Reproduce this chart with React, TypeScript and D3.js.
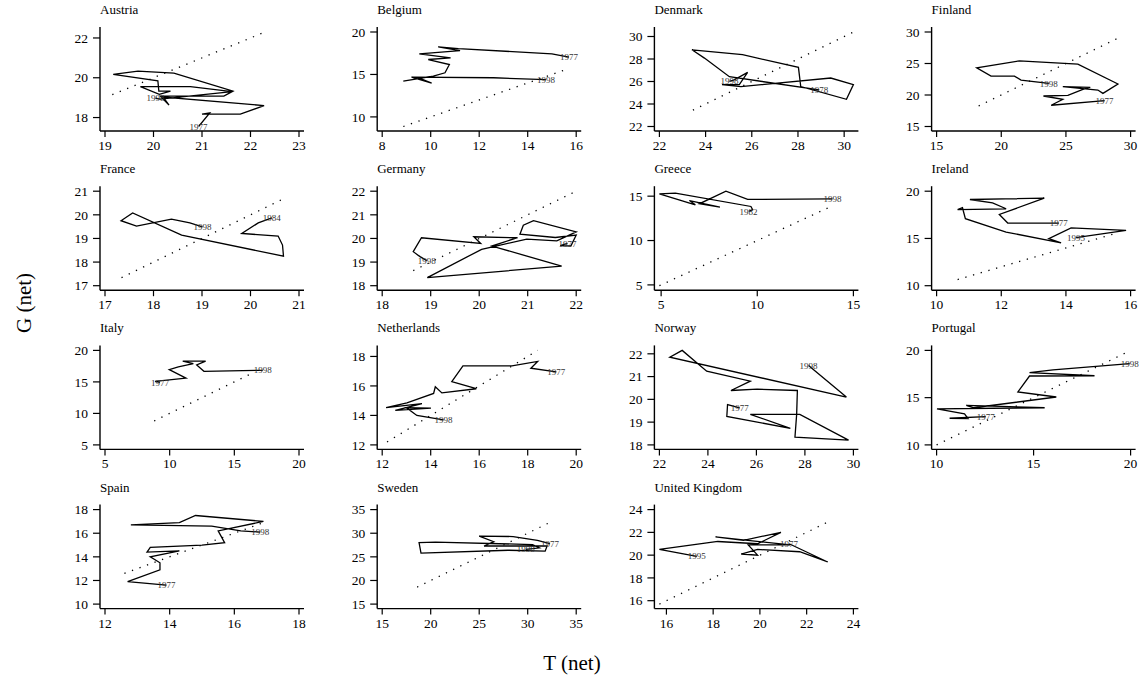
import React from "react";
import * as d3 from "d3";

// ---------- DATA ----------
const countries = ["Austria", "Belgium", "Denmark", "Finland", "France", "Germany", "Greece", "Ireland", "Italy", "Netherlands", "Norway", "Portugal", "Spain", "Sweden", "United Kingdom"];

const austriaT = [20.93, 21.16, 21.0, 21.79, 22.28, 20.2, 20.32, 20.14, 21.45, 21.64, 20.42, 19.68, 19.17, 20.09, 20.11, 20.35, 20.12, 19.73, 20.76, 21.62, 20.14, 20.04];
const austriaG = [17.55, 18.23, 18.17, 18.17, 18.6, 19.03, 18.63, 19.08, 19.08, 19.33, 20.23, 20.33, 20.17, 19.85, 19.33, 19.33, 19.17, 19.55, 19.55, 19.3, 18.93, 18.97];
const austriaMarks: [number, string][] = [[0, "1977"], [21, "1998"]];
const austriaXTicks = [19, 20, 21, 22, 23];
const austriaYTicks = [18, 20, 22];
const austriaDiag = [19.15, 22.3];

const belgiumT = [15.7, 15.0, 11.14, 10.31, 11.21, 9.53, 10.82, 9.9, 10.77, 10.59, 10.11, 8.87, 9.56, 10.04, 9.21, 12.59, 14.75];
const belgiumG = [17.03, 17.42, 18.05, 18.24, 17.81, 17.42, 16.95, 16.76, 16.17, 15.2, 14.8, 14.22, 14.53, 13.98, 14.69, 14.61, 14.38];
const belgiumMarks: [number, string][] = [[0, "1977"], [16, "1998"]];
const belgiumXTicks = [8, 10, 12, 14, 16];
const belgiumYTicks = [10, 15, 20];
const belgiumDiag = [8.87, 15.6];

const denmarkT = [28.92, 25.03, 23.95, 23.41, 25.6, 28.02, 28.12, 30.1, 30.4, 29.42, 25.53, 24.71, 25.46, 25.82, 25.24, 25.03];
const denmarkG = [25.25, 26.43, 28.08, 28.82, 28.38, 27.26, 25.55, 24.42, 25.72, 26.31, 25.55, 25.72, 25.72, 26.81, 26.14, 26.02];
const denmarkMarks: [number, string][] = [[0, "1978"], [15, "1998"]];
const denmarkXTicks = [22, 24, 26, 28, 30];
const denmarkYTicks = [22, 24, 26, 28, 30];
const denmarkDiag = [23.45, 30.4];

const finlandT = [27.99, 23.86, 24.76, 23.26, 25.15, 26.31, 26.88, 24.76, 27.47, 27.86, 29.02, 25.92, 21.4, 18.1, 19.21, 21.02, 21.53, 23.68];
const finlandG = [19.11, 18.37, 19.32, 19.84, 19.95, 20.89, 21.21, 21.32, 20.79, 20.26, 21.74, 24.89, 25.42, 24.32, 23.0, 23.0, 22.37, 21.84];
const finlandMarks: [number, string][] = [[0, "1977"], [17, "1998"]];
const finlandXTicks = [15, 20, 25, 30];
const finlandYTicks = [15, 20, 25, 30];
const finlandDiag = [18.25, 29.0];

const franceT = [20.44, 20.16, 19.82, 20.57, 20.66, 20.68, 18.58, 17.57, 17.33, 17.65, 18.37, 18.75, 19.01];
const franceG = [19.87, 19.66, 19.21, 19.1, 18.72, 18.25, 19.14, 20.08, 19.75, 19.52, 19.82, 19.66, 19.49];
const franceMarks: [number, string][] = [[0, "1984"], [12, "1998"]];
const franceXTicks = [17, 18, 19, 20, 21];
const franceYTicks = [17, 18, 19, 20, 21];
const franceDiag = [17.34, 20.75];

const germanyT = [21.82, 21.67, 21.89, 22.0, 21.57, 20.84, 20.91, 21.12, 22.0, 21.6, 20.98, 20.05, 18.93, 21.7, 20.26, 20.79, 19.89, 20.03, 18.81, 18.64, 18.78, 18.92];
const germanyG = [19.79, 19.7, 19.68, 20.14, 20.04, 20.18, 20.56, 20.75, 20.28, 19.9, 19.97, 19.54, 18.34, 18.83, 19.68, 20.03, 20.07, 19.79, 20.03, 19.44, 19.23, 19.06];
const germanyMarks: [number, string][] = [[0, "1977"], [21, "1998"]];
const germanyXTicks = [18, 19, 20, 21, 22];
const germanyYTicks = [18, 19, 20, 21, 22];
const germanyDiag = [18.64, 22.0];

const greeceT = [9.55, 9.76, 9.67, 5.74, 4.91, 6.78, 6.47, 8.06, 6.99, 8.37, 9.5, 13.91];
const greeceG = [13.28, 13.47, 13.84, 15.34, 15.26, 14.03, 14.51, 13.77, 14.14, 15.56, 14.63, 14.7];
const greeceMarks: [number, string][] = [[0, "1982"], [11, "1998"]];
const greeceXTicks = [5, 10, 15];
const greeceYTicks = [5, 10, 15];
const greeceDiag = [4.91, 13.9];

const irelandT = [13.78, 12.2, 11.94, 13.33, 11.03, 11.73, 12.15, 10.65, 10.8, 10.89, 12.15, 13.85, 13.47, 14.16, 15.86, 14.31];
const irelandG = [16.63, 16.63, 17.54, 19.26, 19.12, 18.77, 18.14, 18.04, 18.25, 17.09, 15.68, 14.53, 14.98, 16.11, 15.86, 15.09];
const irelandMarks: [number, string][] = [[0, "1977"], [15, "1995"]];
const irelandXTicks = [10, 12, 14, 16];
const irelandYTicks = [10, 15, 20];
const irelandDiag = [10.65, 15.6];

const italyT = [9.25, 8.87, 11.26, 9.97, 10.67, 11.83, 11.01, 12.78, 12.09, 12.65, 17.19];
const italyG = [14.92, 15.08, 15.61, 16.95, 17.38, 17.91, 18.29, 18.29, 17.7, 16.68, 16.84];
const italyMarks: [number, string][] = [[0, "1977"], [10, "1998"]];
const italyXTicks = [5, 10, 15, 20];
const italyYTicks = [5, 10, 15, 20];
const italyDiag = [8.8, 16.5];

const netherlandsT = [19.18, 18.13, 18.41, 17.35, 15.33, 14.87, 15.88, 14.46, 14.19, 14.12, 13.02, 12.16, 13.64, 12.54, 14.01, 12.99, 13.43, 14.53];
const netherlandsG = [16.95, 17.2, 17.66, 17.36, 17.36, 16.29, 15.81, 15.53, 15.94, 15.49, 14.85, 14.53, 14.8, 14.34, 14.5, 14.53, 14.0, 13.7];
const netherlandsMarks: [number, string][] = [[0, "1977"], [17, "1998"]];
const netherlandsXTicks = [12, 14, 16, 18, 20];
const netherlandsYTicks = [12, 14, 16, 18];
const netherlandsDiag = [12.2, 18.41];

const norwayT = [25.31, 24.81, 24.78, 27.4, 25.75, 27.79, 29.8, 27.59, 27.66, 27.69, 26.03, 24.95, 25.75, 23.95, 22.94, 22.43, 29.71, 28.15];
const norwayG = [19.63, 19.77, 19.25, 18.73, 19.34, 19.34, 18.21, 18.34, 19.34, 20.39, 20.45, 20.39, 20.8, 21.24, 22.15, 21.85, 20.1, 21.49];
const norwayMarks: [number, string][] = [[0, "1977"], [17, "1998"]];
const norwayXTicks = [22, 24, 26, 28, 30];
const norwayYTicks = [18, 19, 20, 21, 22];
const norwayDiag: number[] = [];

const portugalT = [12.53, 10.67, 11.62, 11.44, 10.02, 15.57, 11.53, 11.91, 16.17, 14.19, 14.79, 18.14, 14.79, 16.0, 19.95];
const portugalG = [13.0, 12.82, 12.79, 13.29, 13.82, 13.93, 14.18, 13.93, 15.07, 15.61, 17.29, 17.32, 17.64, 17.93, 18.6];
const portugalMarks: [number, string][] = [[0, "1977"], [14, "1998"]];
const portugalXTicks = [10, 15, 20];
const portugalYTicks = [10, 15, 20];
const portugalDiag = [10.0, 19.7];

const spainT = [13.9, 12.7, 13.7, 13.7, 13.4, 14.3, 13.3, 13.4, 15.0, 15.7, 15.5, 16.9, 14.8, 14.3, 12.8, 15.3, 16.2, 16.8];
const spainG = [11.6, 11.9, 12.9, 13.5, 14.0, 14.5, 14.4, 14.8, 15.0, 15.2, 16.2, 17.0, 17.5, 16.9, 16.7, 16.6, 16.2, 16.1];
const spainMarks: [number, string][] = [[0, "1977"], [17, "1998"]];
const spainXTicks = [12, 14, 16, 18];
const spainYTicks = [10, 12, 14, 16, 18];
const spainDiag = [12.6, 17.0];

const swedenT = [32.3, 31.0, 28.5, 25.0, 26.5, 25.5, 32.0, 31.8, 28.0, 19.0, 18.8, 20.5, 30.5, 31.2, 29.8];
const swedenG = [27.8, 28.5, 29.3, 29.4, 28.2, 27.3, 27.3, 26.2, 26.4, 25.8, 28.0, 28.1, 27.6, 26.9, 26.6];
const swedenMarks: [number, string][] = [[0, "1977"], [14, "1998"]];
const swedenXTicks = [15, 20, 25, 30, 35];
const swedenYTicks = [15, 20, 25, 30, 35];
const swedenDiag = [18.6, 32.5];

const ukT = [21.25, 22.9, 21.7, 19.9, 19.2, 19.9, 19.5, 21.3, 18.1, 19.3, 20.2, 20.9, 19.9, 18.2, 15.7, 17.3];
const ukG = [21.0, 19.4, 20.3, 20.5, 20.1, 20.0, 20.9, 20.9, 21.6, 21.3, 21.7, 22.0, 21.0, 21.2, 20.5, 19.9];
const ukMarks: [number, string][] = [[0, "1977"], [15, "1995"]];
const ukXTicks = [16, 18, 20, 22, 24];
const ukYTicks = [16, 18, 20, 22, 24];
const ukDiag = [15.7, 23.0];

const xTitle = "T (net)";
const yTitle = "G (net)";

// ---------- assembled table ----------
type PanelData = { name: string; T: number[]; G: number[]; marks: [number, string][]; xTicks: number[]; yTicks: number[]; diag: number[] };
const table: PanelData[] = [
  { name: countries[0], T: austriaT, G: austriaG, marks: austriaMarks, xTicks: austriaXTicks, yTicks: austriaYTicks, diag: austriaDiag },
  { name: countries[1], T: belgiumT, G: belgiumG, marks: belgiumMarks, xTicks: belgiumXTicks, yTicks: belgiumYTicks, diag: belgiumDiag },
  { name: countries[2], T: denmarkT, G: denmarkG, marks: denmarkMarks, xTicks: denmarkXTicks, yTicks: denmarkYTicks, diag: denmarkDiag },
  { name: countries[3], T: finlandT, G: finlandG, marks: finlandMarks, xTicks: finlandXTicks, yTicks: finlandYTicks, diag: finlandDiag },
  { name: countries[4], T: franceT, G: franceG, marks: franceMarks, xTicks: franceXTicks, yTicks: franceYTicks, diag: franceDiag },
  { name: countries[5], T: germanyT, G: germanyG, marks: germanyMarks, xTicks: germanyXTicks, yTicks: germanyYTicks, diag: germanyDiag },
  { name: countries[6], T: greeceT, G: greeceG, marks: greeceMarks, xTicks: greeceXTicks, yTicks: greeceYTicks, diag: greeceDiag },
  { name: countries[7], T: irelandT, G: irelandG, marks: irelandMarks, xTicks: irelandXTicks, yTicks: irelandYTicks, diag: irelandDiag },
  { name: countries[8], T: italyT, G: italyG, marks: italyMarks, xTicks: italyXTicks, yTicks: italyYTicks, diag: italyDiag },
  { name: countries[9], T: netherlandsT, G: netherlandsG, marks: netherlandsMarks, xTicks: netherlandsXTicks, yTicks: netherlandsYTicks, diag: netherlandsDiag },
  { name: countries[10], T: norwayT, G: norwayG, marks: norwayMarks, xTicks: norwayXTicks, yTicks: norwayYTicks, diag: norwayDiag },
  { name: countries[11], T: portugalT, G: portugalG, marks: portugalMarks, xTicks: portugalXTicks, yTicks: portugalYTicks, diag: portugalDiag },
  { name: countries[12], T: spainT, G: spainG, marks: spainMarks, xTicks: spainXTicks, yTicks: spainYTicks, diag: spainDiag },
  { name: countries[13], T: swedenT, G: swedenG, marks: swedenMarks, xTicks: swedenXTicks, yTicks: swedenYTicks, diag: swedenDiag },
  { name: countries[14], T: ukT, G: ukG, marks: ukMarks, xTicks: ukXTicks, yTicks: ukYTicks, diag: ukDiag },
];

// ---------- layout ----------
const W = 1144;
const H = 684;
const COL0 = 100;
const COLSTEP = 277.2;
const ROW0 = 27;
const ROWSTEP = 159.2;
const PW = 204;
const PH = 104;
const serif: React.CSSProperties = { fontFamily: "'Liberation Serif', 'Times New Roman', Times, serif" };

function Panel({ p, idx }: { p: PanelData; idx: number }) {
  const c = idx % 4;
  const r = Math.floor(idx / 4);
  const L = COL0 + COLSTEP * c;
  const top = ROW0 + ROWSTEP * r;
  const bottom = top + PH;

  const xs = [...p.T, ...p.xTicks, ...p.diag];
  const ys = [...p.G, ...p.yTicks, ...p.diag];
  const x = d3.scaleLinear().domain(d3.extent(xs) as [number, number]).range([L + 5, L + 199]);
  const y = d3.scaleLinear().domain(d3.extent(ys) as [number, number]).range([bottom - 4.5, top + 5]);

  const pts = p.T.map((t, i) => [t, p.G[i]] as [number, number]);
  const line = d3.line<[number, number]>().x((d) => x(d[0])).y((d) => y(d[1]));
  const path = line(pts) || "";

  return (
    <g>
      <text x={L} y={top - 13} fontSize={13} style={serif} fill="#000">{p.name}</text>
      <line x1={L} y1={top} x2={L} y2={bottom} stroke="#000" strokeWidth={1.4} />
      <line x1={L} y1={bottom} x2={L + PW} y2={bottom} stroke="#000" strokeWidth={1.4} />
      {p.yTicks.map((t) => (
        <g key={"y" + t}>
          <line x1={L - 7} x2={L} y1={y(t)} y2={y(t)} stroke="#000" strokeWidth={1.2} />
          <text x={L - 12} y={y(t)} dy="0.35em" textAnchor="end" fontSize={13.5} style={serif}>{t}</text>
        </g>
      ))}
      {p.xTicks.map((t) => (
        <g key={"x" + t}>
          <line x1={x(t)} x2={x(t)} y1={bottom} y2={bottom + 6} stroke="#000" strokeWidth={1.2} />
          <text x={x(t)} y={bottom + 19} textAnchor="middle" fontSize={13.5} style={serif}>{t}</text>
        </g>
      ))}
      {p.diag.length === 2 && (
        <line x1={x(p.diag[0])} y1={y(p.diag[0])} x2={x(p.diag[1])} y2={y(p.diag[1])} stroke="#000" strokeWidth={1.3} strokeDasharray="1.3 6.7" />
      )}
      <path d={path} fill="none" stroke="#000" strokeWidth={1.3} strokeLinejoin="miter" />
      {p.marks.map(([i, lab]) => (
        <text key={lab} x={x(p.T[i])} y={y(p.G[i])} dy="0.35em" textAnchor="middle" fontSize={9} style={serif} fill="#333">{lab}</text>
      ))}
    </g>
  );
}

export default function App() {
  return (
    <svg width={W} height={H} style={{ position: "absolute", left: 0, top: 0, background: "#fff" }}>
      <rect x={0} y={0} width={W} height={H} fill="#fff" />
      {table.map((p, i) => (
        <Panel key={p.name} p={p} idx={i} />
      ))}
      <text transform="translate(24,303) rotate(-90)" dy="0.35em" textAnchor="middle" fontSize={21} style={serif}>{yTitle}</text>
      <text x={572} y={670} textAnchor="middle" fontSize={21} style={serif}>{xTitle}</text>
    </svg>
  );
}
